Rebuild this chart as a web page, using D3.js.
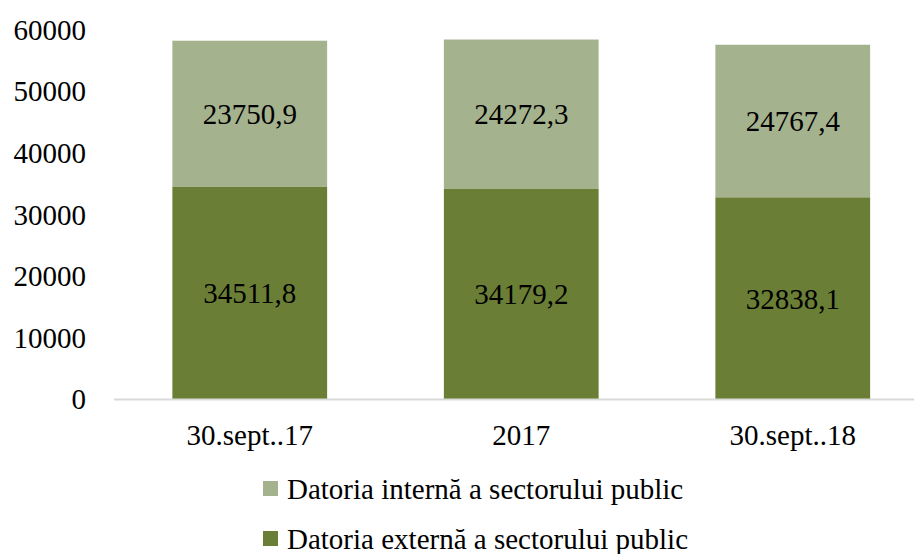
<!DOCTYPE html>
<html>
<head>
<meta charset="utf-8">
<script src="https://cdn.jsdelivr.net/npm/d3@7"></script>
<style>
  body { margin: 0; background: #fff; }
  text { font-family: "Liberation Serif", "DejaVu Serif", serif; fill: #000; }
</style>
</head>
<body>
<script>
// data
var categories = ["30.sept..17", "2017", "30.sept..18"];
var externa = [34511.8, 34179.2, 32838.1];
var interna = [23750.9, 24272.3, 24767.4];
var seriesNames = ["Datoria internă a sectorului public", "Datoria externă a sectorului public"];
var yTicks = [0, 10000, 20000, 30000, 40000, 50000, 60000];

var width = 914, height = 554;
var darkGreen = "#6a7f35", lightGreen = "#a5b28e";
var fontSize = 29;

var svg = d3.select("body").append("svg")
    .attr("width", width)
    .attr("height", height);

var x = d3.scaleBand()
    .domain(categories)
    .range([114, 928.5])
    .paddingInner(0.43)
    .paddingOuter(0.215);

var y = d3.scaleLinear()
    .domain([0, 60000])
    .range([399.5, 30]);

// stacked rows
var rows = categories.map(function (c, i) {
    return { cat: c, ext: externa[i], int: interna[i] };
});
var stack = d3.stack().keys(["ext", "int"])(rows);
var colors = { ext: darkGreen, int: lightGreen };

// y axis labels (no line, no ticks)
var yAxis = svg.append("g")
    .attr("transform", "translate(86,0)")
    .call(d3.axisLeft(y).tickValues(yTicks).tickSize(0).tickPadding(0).tickFormat(d3.format("d")));
yAxis.select(".domain").remove();
yAxis.selectAll("text")
    .attr("font-size", fontSize)
    .attr("font-family", null);

// bars
var layers = svg.selectAll("g.layer")
    .data(stack)
    .enter().append("g")
    .attr("class", "layer")
    .attr("fill", function (d) { return colors[d.key]; });

layers.selectAll("rect")
    .data(function (d) { return d; })
    .enter().append("rect")
    .attr("x", function (d) { return x(d.data.cat); })
    .attr("width", x.bandwidth())
    .attr("y", function (d) { return y(d[1]); })
    .attr("height", function (d) { return y(d[0]) - y(d[1]); });

// value labels
layers.selectAll("text")
    .data(function (d) { return d; })
    .enter().append("text")
    .attr("x", function (d) { return x(d.data.cat) + x.bandwidth() / 2; })
    .attr("y", function (d) { return (y(d[0]) + y(d[1])) / 2; })
    .attr("dy", "0.35em")
    .attr("text-anchor", "middle")
    .attr("font-size", fontSize)
    .attr("fill", "#000")
    .text(function (d) { return d3.format(".1f")(d[1] - d[0]).replace(".", ","); });

// x axis
var xAxis = svg.append("g")
    .attr("transform", "translate(0," + y(0) + ")")
    .call(d3.axisBottom(x).tickSize(0).tickPadding(25));
xAxis.select(".domain")
    .attr("d", "M114,0H914")
    .attr("stroke", "#d9d9d9")
    .attr("stroke-width", 2);
xAxis.selectAll("text")
    .attr("font-size", fontSize)
    .attr("font-family", null);

// legend
var legend = svg.append("g")
    .attr("transform", "translate(263,481)");
var items = legend.selectAll("g")
    .data(seriesNames)
    .enter().append("g")
    .attr("transform", function (d, i) { return "translate(0," + i * 50 + ")"; });
items.append("rect")
    .attr("width", 15)
    .attr("height", 15)
    .attr("fill", function (d, i) { return i === 0 ? lightGreen : darkGreen; });
items.append("text")
    .attr("x", 24)
    .attr("y", 7.5)
    .attr("dy", "0.35em")
    .attr("font-size", fontSize)
    .text(function (d) { return d; });
</script>
</body>
</html>
